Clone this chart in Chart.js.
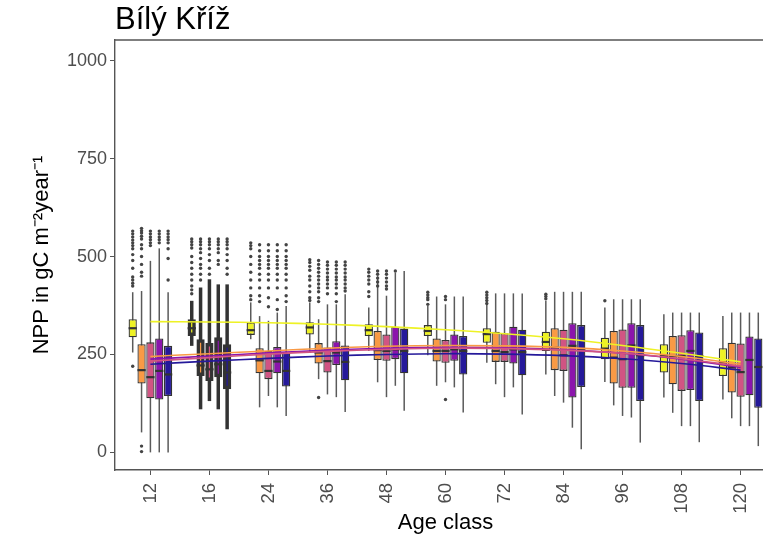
<!DOCTYPE html>
<html>
<head>
<meta charset="utf-8">
<script src="https://cdn.jsdelivr.net/npm/chart.js@4"></script>
<style>
  html, body { margin: 0; padding: 0; background: #fff; overflow: hidden; }
  #wrap { width: 780px; height: 541px; }
</style>
</head>
<body>
<div id="wrap"><canvas id="chart"></canvas></div>
<script>
const ageClasses = ['12', '16', '24', '36', '48', '60', '72', '84', '96', '108', '120'];
const seriesNames = ['Series 1', 'Series 2', 'Series 3', 'Series 4', 'Series 5'];

// box stats per age class: [lower whisker, q1, median, q3, upper whisker]
const yellowBox = [
  [255, 294, 317, 340, 409], [272, 297, 317, 340, 387], [289, 300, 312, 332, 383],
  [255, 301, 319, 332, 383], [259, 297, 312, 327, 370], [248, 297, 310, 325, 374],
  [229, 280, 302, 317, 378], [199, 259, 282, 308, 387], [180, 238, 265, 293, 370],
  [140, 204, 246, 276, 353], [135, 195, 229, 266, 348]
];
const orangeBox = [
  [51, 176, 210, 276, 412], [110, 195, 222, 289, 421], [115, 202, 235, 266, 348],
  [187, 227, 255, 279, 340], [179, 236, 261, 310, 450], [170, 232, 259, 291, 398],
  [174, 231, 259, 308, 406], [144, 210, 268, 317, 410], [120, 176, 242, 310, 391],
  [101, 174, 246, 297, 357], [87, 153, 217, 280, 357]
];
const pinkBox = [
  [0, 138, 192, 281, 489], [131, 182, 212, 279, 442], [144, 187, 208, 259, 336],
  [148, 204, 233, 268, 378], [141, 234, 259, 301, 400], [179, 229, 259, 287, 378],
  [141, 231, 256, 304, 406], [127, 208, 248, 313, 410], [93, 165, 238, 314, 391],
  [67, 157, 246, 299, 357], [67, 142, 205, 278, 357]
];
const purpleBox = [
  [0, 135, 208, 291, 521], [110, 192, 225, 294, 429], [115, 202, 232, 269, 357],
  [141, 223, 255, 284, 378], [170, 238, 263, 321, 459], [166, 234, 263, 301, 398],
  [166, 227, 263, 321, 406], [63, 140, 272, 330, 410], [89, 165, 273, 330, 391],
  [67, 159, 259, 312, 357], [67, 146, 236, 296, 357]
];
const blueBox = [
  [0, 144, 199, 272, 409], [59, 161, 204, 276, 429], [93, 168, 208, 255, 374],
  [103, 184, 231, 273, 404], [106, 202, 259, 316, 463], [102, 199, 259, 297, 398],
  [97, 197, 256, 313, 406], [8, 167, 263, 325, 410], [25, 131, 248, 325, 391],
  [26, 131, 246, 306, 357], [16, 114, 218, 291, 357]
];

// outliers per age class
const yellowOut = [
  [565, 558, 550, 542, 535, 528, 520, 505, 490, 470, 448, 440, 432, 425, 220],
  [545, 538, 530, 522, 500, 485, 470, 455, 440, 425, 415, 405],
  [535, 528, 520, 500, 480, 460, 440, 420, 400, 390],
  [492, 485, 475, 465, 450, 440, 425, 410, 395, 388],
  [468, 460, 450, 440, 430, 410, 398],
  [409, 402, 395, 390, 378],
  [409, 402, 395, 388, 380],
  [404, 398, 392],
  [387], [], []
];
const orangeOut = [
  [572, 566, 560, 552, 545, 530, 520, 500, 480, 460, 450, 16, 2],
  [545, 538, 530, 520, 510, 495, 480, 470, 455, 440],
  [530, 515, 500, 490, 480, 470, 455, 440, 420, 400, 385],
  [490, 480, 470, 460, 450, 440, 430, 420, 410, 395, 385, 140],
  [463, 455, 445, 435, 425],
  [], [], [], [], [], []
];
const pinkOut = [
  [565, 558, 550, 543, 535, 528],
  [545, 538, 530, 520, 505, 490, 470, 455],
  [530, 515, 500, 490, 480, 470, 455, 440, 420, 395, 372],
  [486, 478, 468, 458, 448, 440, 430, 420, 405],
  [463, 455, 445, 435, 425, 417],
  [398, 390, 135],
  [], [], [], [], []
];
const purpleOut = [
  [565, 558, 550, 543, 535],
  [545, 538, 530, 520, 510, 490, 480],
  [530, 515, 500, 490, 480, 470, 455, 440, 420, 390, 365],
  [486, 478, 468, 458, 448, 440, 430, 420, 405, 385],
  [463],
  [], [], [], [], [], []
];
const blueOut = [
  [565, 558, 550, 543, 535, 520, 495, 440],
  [545, 538, 530, 520, 505, 490, 470, 455],
  [530, 515, 500, 490, 480, 470, 455, 440, 420, 400, 385],
  [486, 478, 468, 458, 448, 440, 430, 420, 412],
  [], [], [], [], [], [], []
];

// smoothed trend per series
const yellowTrend = [334, 333, 331, 327, 321, 313, 303, 290, 273, 253, 231];
const orangeTrend = [245, 252, 259, 266, 271, 273, 272, 268, 259, 245, 225];
const pinkTrend = [233, 242, 251, 258, 263, 266, 265, 261, 253, 239, 220];
const purpleTrend = [238, 246, 254, 261, 266, 268, 267, 262, 253, 238, 217];
const blueTrend = [225, 233, 240, 246, 250, 252, 251, 247, 239, 227, 210];

const colors = ['#EEF225', '#F99A45', '#D15483', '#8B15AC', '#25199A'];
const boxes = [yellowBox, orangeBox, pinkBox, purpleBox, blueBox];
const outliers = [yellowOut, orangeOut, pinkOut, purpleOut, blueOut];
const trends = [yellowTrend, orangeTrend, pinkTrend, purpleTrend, blueTrend];

const FONT = '"Liberation Sans", Arial, Helvetica, sans-serif';
const DODGE = 0.75;
const heavy = i => ageClasses[i] === '16';

const datasets = [];
boxes.forEach((box, s) => {
  datasets.push({
    type: 'bar',
    label: seriesNames[s],
    stats: box,
    data: box.map((b, i) => ({ x: i, y: [b[1], b[3]] })),
    backgroundColor: colors[s],
    borderColor: '#333333',
    borderWidth: ctx => heavy(ctx.dataIndex) ? 3.5 : 1.3,
    borderSkipped: false,
    categoryPercentage: DODGE,
    barPercentage: 0.93,
    order: 3
  });
});
outliers.forEach((out, s) => {
  const pts = [];
  out.forEach((vals, i) => vals.forEach(v => pts.push({ x: i + DODGE * ((s + 0.5) / 5 - 0.5), y: v })));
  datasets.push({
    type: 'scatter',
    label: seriesNames[s] + ' outliers',
    data: pts,
    pointRadius: 1.7,
    pointBackgroundColor: '#444444',
    pointBorderWidth: 0,
    order: 2
  });
});
trends.forEach((tr, s) => {
  datasets.push({
    type: 'line',
    label: seriesNames[s] + ' trend',
    data: tr.map((v, i) => ({ x: i, y: v })),
    borderColor: colors[s],
    borderWidth: 1.6,
    pointRadius: 0,
    tension: 0.4,
    fill: false,
    order: 1
  });
});

const boxParts = {
  id: 'boxParts',
  beforeDatasetsDraw(chart) {
    const ctx = chart.ctx, y = chart.scales.y;
    ctx.save();
    chart.data.datasets.forEach((ds, di) => {
      if (ds.type !== 'bar') return;
      chart.getDatasetMeta(di).data.forEach((bar, i) => {
        const st = ds.stats[i];
        ctx.strokeStyle = heavy(i) ? '#333333' : '#5a5a5a';
        ctx.lineWidth = heavy(i) ? 3.5 : 1.5;
        ctx.beginPath();
        ctx.moveTo(bar.x, y.getPixelForValue(st[0]));
        ctx.lineTo(bar.x, y.getPixelForValue(st[4]));
        ctx.stroke();
      });
    });
    ctx.restore();
  },
  afterDatasetDraw(chart, args) {
    const ds = chart.data.datasets[args.index];
    if (ds.type !== 'bar') return;
    const ctx = chart.ctx, y = chart.scales.y;
    ctx.save();
    ctx.strokeStyle = '#333333';
    ctx.lineWidth = 2.2;
    args.meta.data.forEach((bar, i) => {
      const py = y.getPixelForValue(ds.stats[i][2]);
      ctx.beginPath();
      ctx.moveTo(bar.x - bar.width / 2, py);
      ctx.lineTo(bar.x + bar.width / 2, py);
      ctx.stroke();
    });
    ctx.restore();
  }
};

const frame = {
  id: 'frame',
  afterDraw(chart) {
    const { ctx, chartArea } = chart;
    ctx.save();
    ctx.strokeStyle = '#555555';
    ctx.lineWidth = 1.4;
    ctx.beginPath();
    ctx.moveTo(chartArea.left, chartArea.top);
    ctx.lineTo(chartArea.right + 5, chartArea.top);
    ctx.stroke();
    ctx.fillStyle = '#000000';
    ctx.font = '31px ' + FONT;
    ctx.textBaseline = 'alphabetic';
    ctx.textAlign = 'left';
    ctx.fillText('Bílý Kříž', chartArea.left, 29);
    ctx.restore();
  }
};

new Chart(document.getElementById('chart'), {
  type: 'bar',
  data: { datasets },
  plugins: [boxParts, frame],
  options: {
    responsive: true,
    maintainAspectRatio: false,
    animation: false,
    layout: { padding: { top: 40, left: 0, right: 3.5, bottom: 0 } },
    plugins: {
      legend: { display: false },
      tooltip: { enabled: false },
      title: { display: false }
    },
    scales: {
      x: {
        type: 'linear',
        offset: false,
        min: -0.6,
        max: 10.6,
        afterBuildTicks: axis => { axis.ticks = ageClasses.map((_, i) => ({ value: i })); },
        afterFit: axis => { axis.height = 71; },
        ticks: {
          callback: v => ageClasses[v],
          minRotation: 90,
          maxRotation: 90,
          padding: 8,
          color: '#4D4D4D',
          font: { family: FONT, size: 18.5 }
        },
        grid: { display: true, drawOnChartArea: false, drawTicks: true, tickLength: 5, color: '#555555', offset: false },
        border: { display: true, color: '#555555', width: 1.4 },
        title: {
          display: true,
          text: 'Age class',
          color: '#000000',
          font: { family: FONT, size: 22 },
          padding: { top: 0, bottom: 5 }
        }
      },
      y: {
        min: -45,
        max: 1053,
        afterBuildTicks: axis => { axis.ticks = [0, 250, 500, 750, 1000].map(v => ({ value: v })); },
        afterFit: axis => { axis.width = 115; },
        ticks: {
          callback: v => String(v),
          padding: 3,
          color: '#4D4D4D',
          font: { family: FONT, size: 18 }
        },
        grid: { display: true, drawOnChartArea: false, drawTicks: true, tickLength: 5, color: '#555555' },
        border: { display: true, color: '#555555', width: 1.4 },
        title: {
          display: true,
          text: 'NPP in gC m⁻²year⁻¹',
          color: '#000000',
          font: { family: FONT, size: 22 },
          padding: { top: 29, bottom: 0 }
        }
      }
    }
  }
});
</script>
</body>
</html>
